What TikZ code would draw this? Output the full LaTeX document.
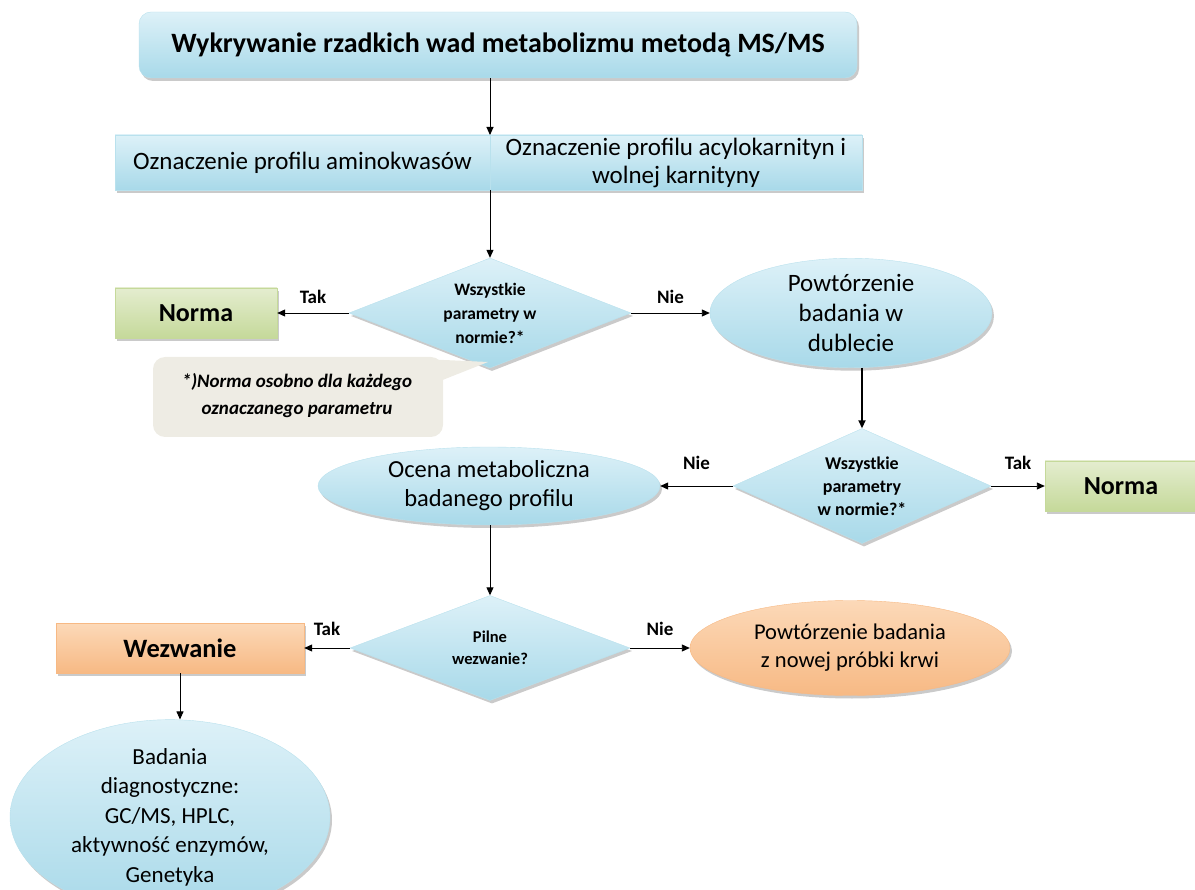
\documentclass[tikz,border=0pt]{standalone}
\usepackage{fontspec}
\setmainfont{Carlito}
\usetikzlibrary{shapes.geometric,shadows,arrows.meta}
\definecolor{bluetop}{HTML}{DDF1F8}
\definecolor{bluebot}{HTML}{A8D9E9}
\definecolor{greentop}{HTML}{E4EDCF}
\definecolor{greenbot}{HTML}{C5D99A}
\definecolor{orangetop}{HTML}{FCD9B8}
\definecolor{orangebot}{HTML}{F7B984}
\definecolor{notefill}{HTML}{EEECE4}
\tikzset{
  x=1pt,y=-1pt,
  sh/.style={drop shadow={shadow xshift=2pt,shadow yshift=-3pt,opacity=0.35,fill=black!60}},
  bluefill/.style={top color=bluetop,bottom color=bluebot,draw=bluebot!80!white,line width=0.4pt},
  greenfill/.style={top color=greentop,bottom color=greenbot,draw=greenbot,line width=0.4pt},
  orangefill/.style={top color=orangetop,bottom color=orangebot,draw=orangebot,line width=0.4pt},
  boxnode/.style={rectangle,inner sep=0pt,align=center,sh},
  ellnode/.style={ellipse,inner sep=0pt,align=center,sh},
  decnode/.style={diamond,inner sep=0pt,align=center,sh},
  conn/.style={-{Triangle[length=8pt,width=7pt]},line width=0.9pt,black},
  lbl/.style={font=\fontsize{19}{21}\selectfont\bfseries,inner sep=0pt},
}
\begin{document}
\begin{tikzpicture}
\useasboundingbox (0,0) rectangle (1195,890);
% title
\node[boxnode,bluefill,rounded corners=12pt,minimum width=718,minimum height=66,
  font=\fontsize{28}{32}\selectfont\bfseries] (title) at (498,45)
  {Wykrywanie rzadkich wad metabolizmu metodą MS/MS};
% profile boxes
\node[boxnode,bluefill,minimum width=375,minimum height=55,
  font=\fontsize{25}{28}\selectfont] (amino) at (302.5,162.5)
  {Oznaczenie profilu aminokwasów};
\node[boxnode,bluefill,minimum width=372,minimum height=55,
  font=\fontsize{25}{28}\selectfont] (acyl) at (676,162.5)
  {Oznaczenie profilu acylokarnityn i\\wolnej karnityny};
\coordinate (split) at (490,135);
\coordinate (splitb) at (490,190);
% decision 1
\node[decnode,bluefill,minimum width=282,minimum height=110,aspect=2.56,
  font=\fontsize{17.5}{24}\selectfont\bfseries] (d1) at (490,313)
  {Wszystkie\\parametry w\\normie?*};
\node[boxnode,greenfill,minimum width=162,minimum height=50,
  font=\fontsize{26}{30}\selectfont\bfseries] (norma1) at (196,313) {Norma};
\node[ellnode,bluefill,minimum width=282,minimum height=103,
  font=\fontsize{25}{30}\selectfont] (e1) at (851,313)
  {Powtórzenie\\badania w\\dublecie};
% callout
\fill[notefill,rounded corners=12pt] (153,357) rectangle (443,437);
\fill[notefill] (400,358) -- (488,362) -- (430,385) -- cycle;
\node[font=\fontsize{19}{27}\selectfont\bfseries\itshape,align=center] (note) at (297,396)
  {*)Norma osobno dla każdego\\oznaczanego parametru};
% decision 2
\node[decnode,bluefill,minimum width=258,minimum height=115,aspect=2.24,
  font=\fontsize{18}{23}\selectfont\bfseries] (d2) at (862,486)
  {Wszystkie\\parametry\\w normie?*};
\node[boxnode,greenfill,minimum width=152,minimum height=50,
  font=\fontsize{26}{30}\selectfont\bfseries] (norma2) at (1121,486) {Norma};
\node[ellnode,bluefill,minimum width=342,minimum height=78,
  font=\fontsize{24.5}{29}\selectfont] (e2) at (489,486)
  {Ocena metaboliczna\\badanego profilu};
% decision 3
\node[decnode,bluefill,minimum width=280,minimum height=105,aspect=2.67,
  font=\fontsize{16.5}{22}\selectfont\bfseries] (d3) at (490,648)
  {Pilne\\wezwanie?};
\node[boxnode,orangefill,minimum width=248,minimum height=50,
  font=\fontsize{26.5}{30}\selectfont\bfseries] (wez) at (180,648) {Wezwanie};
\node[ellnode,orangefill,minimum width=320,minimum height=95,
  font=\fontsize{22.5}{28}\selectfont] (e3) at (850,648)
  {Powtórzenie badania\\z nowej próbki krwi};
\node[ellnode,bluefill,minimum width=320,minimum height=145,
  font=\fontsize{23}{29.5}\selectfont] (e4) at (170,817)
  {Badania\\diagnostyczne:\\GC/MS, HPLC,\\aktywność enzymów,\\Genetyka};
% connectors
\draw[conn] (title.south -| split) -- (split);
\draw[conn] (splitb) -- (d1.north);
\draw[conn] (d1.west) -- node[lbl,above=9pt]{Tak} (norma1.east);
\draw[conn] (d1.east) -- node[lbl,above=9pt]{Nie} (e1.west);
\draw[conn,line width=1.8pt] (e1.south -| d2.north) -- (d2.north);
\draw[conn] (d2.east) -- node[lbl,above=16pt]{Tak} (norma2.west);
\draw[conn] (d2.west) -- node[lbl,above=16pt]{Nie} (e2.east);
\draw[conn] (e2.south -| d3.north) -- (d3.north);
\draw[conn] (d3.west) -- node[lbl,above=12pt]{Tak} (wez.east);
\draw[conn] (d3.east) -- node[lbl,above=12pt]{Nie} (e3.west);
\draw[conn] (wez.south) -- (e4.north -| wez.south);
\end{tikzpicture}
\end{document}
